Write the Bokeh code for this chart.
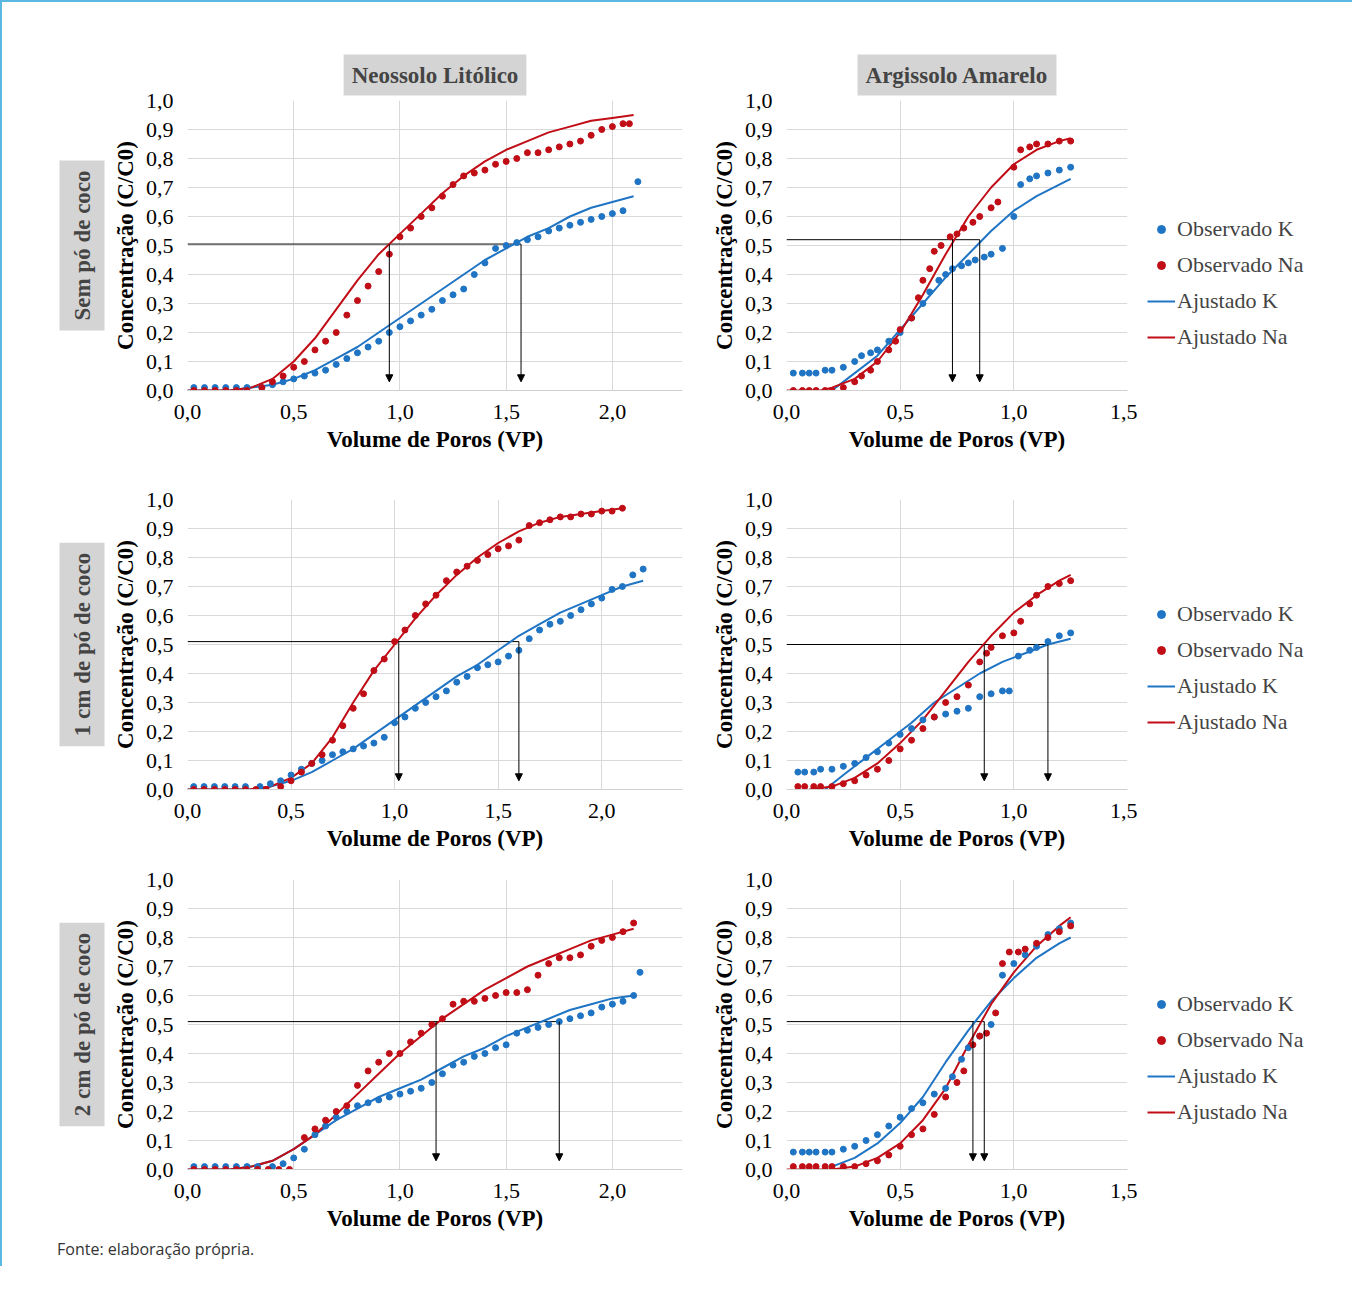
from bokeh.models import (Range1d, FixedTicker, CustomJSTickFormatter, Title, Legend,
                          LegendItem, Arrow, NormalHead, Div)
from bokeh.plotting import figure
from bokeh.layouts import column, row
from bokeh.embed import file_html
from bokeh.resources import INLINE

BLUE = "#1f74c4"
RED = "#c00d16"
SERIF = "Liberation Serif"

# ---- Neossolo Litólico, sem pó de coco
n0_na_x = [0.03,0.08,0.13,0.18,0.23,0.28,0.35,0.4,0.45,0.5,0.55,0.6,0.65,0.7,0.75,0.8,0.85,0.9,0.95,1.0,1.05,1.1,1.15,1.2,1.25,1.3,1.35,1.4,1.45,1.5,1.55,1.6,1.65,1.7,1.75,1.8,1.85,1.9,1.95,2.0,2.05,2.08]
n0_na_y = [0,0,0,0,0,0,0.01,0.03,0.05,0.08,0.1,0.14,0.17,0.2,0.26,0.31,0.36,0.41,0.47,0.53,0.56,0.6,0.63,0.67,0.71,0.74,0.75,0.76,0.78,0.79,0.8,0.82,0.82,0.83,0.84,0.85,0.86,0.88,0.9,0.91,0.92,0.92]
n0_k_x = [0.03,0.08,0.13,0.18,0.23,0.28,0.35,0.4,0.45,0.5,0.55,0.6,0.65,0.7,0.75,0.8,0.85,0.9,0.95,1.0,1.05,1.1,1.15,1.2,1.25,1.3,1.35,1.4,1.45,1.5,1.55,1.6,1.65,1.7,1.75,1.8,1.85,1.9,1.95,2.0,2.05,2.12]
n0_k_y = [0.01,0.01,0.01,0.01,0.01,0.01,0.01,0.02,0.03,0.04,0.05,0.06,0.07,0.09,0.11,0.13,0.15,0.17,0.2,0.22,0.24,0.26,0.28,0.31,0.33,0.35,0.4,0.44,0.49,0.5,0.51,0.52,0.53,0.55,0.56,0.57,0.58,0.59,0.6,0.61,0.62,0.72]
n0_fna_x = [0.0,0.2,0.3,0.4,0.5,0.6,0.7,0.8,0.9,1.0,1.1,1.2,1.3,1.4,1.5,1.6,1.7,1.8,1.9,2.0,2.1]
n0_fna_y = [0,0,0.01,0.04,0.1,0.18,0.28,0.38,0.47,0.54,0.61,0.68,0.74,0.79,0.83,0.86,0.89,0.91,0.93,0.94,0.95]
n0_fk_x = [0.0,0.2,0.3,0.4,0.5,0.6,0.7,0.8,0.9,1.0,1.1,1.2,1.3,1.4,1.5,1.6,1.7,1.8,1.9,2.0,2.1]
n0_fk_y = [0,0,0.01,0.02,0.04,0.07,0.11,0.15,0.2,0.25,0.3,0.35,0.4,0.45,0.49,0.53,0.56,0.6,0.63,0.65,0.67]
n0_ref = (0.505, [0.95, 1.57])

# ---- Argissolo Amarelo, sem pó de coco
a0_na_x = [0.03,0.07,0.1,0.13,0.17,0.2,0.25,0.3,0.33,0.37,0.4,0.45,0.48,0.5,0.55,0.58,0.6,0.63,0.65,0.68,0.72,0.75,0.78,0.82,0.85,0.9,0.93,1.0,1.03,1.07,1.1,1.15,1.2,1.25]
a0_na_y = [0,0,0,0,0,0,0.01,0.03,0.05,0.07,0.1,0.14,0.17,0.21,0.25,0.32,0.38,0.42,0.48,0.5,0.53,0.54,0.56,0.58,0.6,0.63,0.65,0.77,0.83,0.84,0.85,0.85,0.86,0.86]
a0_k_x = [0.03,0.07,0.1,0.13,0.17,0.2,0.25,0.3,0.33,0.37,0.4,0.45,0.5,0.55,0.6,0.63,0.67,0.7,0.73,0.77,0.8,0.83,0.87,0.9,0.95,1.0,1.03,1.07,1.1,1.15,1.2,1.25]
a0_k_y = [0.06,0.06,0.06,0.06,0.07,0.07,0.08,0.1,0.12,0.13,0.14,0.17,0.2,0.25,0.3,0.34,0.38,0.4,0.42,0.43,0.44,0.45,0.46,0.47,0.49,0.6,0.71,0.73,0.74,0.75,0.76,0.77]
a0_fna_x = [0.0,0.15,0.2,0.3,0.4,0.5,0.6,0.7,0.8,0.9,1.0,1.1,1.2,1.25]
a0_fna_y = [0,0,0.01,0.04,0.1,0.2,0.33,0.47,0.6,0.7,0.78,0.83,0.86,0.87]
a0_fk_x = [0.2,0.3,0.4,0.5,0.6,0.7,0.8,0.9,1.0,1.1,1.2,1.25]
a0_fk_y = [0,0.06,0.12,0.21,0.3,0.39,0.47,0.55,0.62,0.67,0.71,0.73]
a0_ref = (0.52, [0.73, 0.85])

# ---- Neossolo Litólico, 1 cm de pó de coco
n1_na_x = [0.03,0.08,0.13,0.18,0.23,0.28,0.33,0.38,0.45,0.5,0.55,0.6,0.65,0.7,0.75,0.8,0.85,0.9,0.95,1.0,1.05,1.1,1.15,1.2,1.25,1.3,1.35,1.4,1.45,1.5,1.55,1.6,1.65,1.7,1.75,1.8,1.85,1.9,1.95,2.0,2.05,2.1]
n1_na_y = [0,0,0,0,0,0,0,0,0.01,0.03,0.06,0.09,0.12,0.17,0.22,0.28,0.33,0.41,0.45,0.51,0.55,0.6,0.64,0.67,0.72,0.75,0.77,0.79,0.81,0.83,0.84,0.86,0.91,0.92,0.93,0.94,0.94,0.95,0.95,0.96,0.96,0.97]
n1_k_x = [0.03,0.08,0.13,0.18,0.23,0.28,0.35,0.4,0.45,0.5,0.55,0.6,0.65,0.7,0.75,0.8,0.85,0.9,0.95,1.0,1.05,1.1,1.15,1.2,1.25,1.3,1.35,1.4,1.45,1.5,1.55,1.6,1.65,1.7,1.75,1.8,1.85,1.9,1.95,2.0,2.05,2.1,2.15,2.2]
n1_k_y = [0.01,0.01,0.01,0.01,0.01,0.01,0.01,0.02,0.03,0.05,0.07,0.09,0.1,0.12,0.13,0.14,0.15,0.16,0.18,0.23,0.25,0.28,0.3,0.32,0.34,0.37,0.39,0.42,0.43,0.44,0.46,0.48,0.52,0.55,0.57,0.58,0.6,0.62,0.64,0.66,0.69,0.7,0.74,0.76]
n1_fna_x = [0.0,0.3,0.4,0.5,0.6,0.7,0.8,0.9,1.0,1.1,1.2,1.3,1.4,1.5,1.6,1.7,1.8,1.9,2.0,2.1]
n1_fna_y = [0,0,0.01,0.04,0.09,0.18,0.3,0.41,0.5,0.59,0.67,0.74,0.8,0.85,0.89,0.92,0.94,0.95,0.96,0.97]
n1_fk_x = [0.0,0.3,0.4,0.5,0.6,0.7,0.8,0.9,1.0,1.1,1.2,1.3,1.4,1.5,1.6,1.7,1.8,1.9,2.0,2.1,2.2]
n1_fk_y = [0,0,0.01,0.03,0.06,0.1,0.14,0.19,0.24,0.29,0.34,0.39,0.43,0.48,0.53,0.57,0.61,0.64,0.67,0.7,0.72]
n1_ref = (0.51, [1.02, 1.6])

# ---- Argissolo Amarelo, 1 cm de pó de coco
a1_na_x = [0.05,0.08,0.12,0.15,0.2,0.25,0.3,0.35,0.4,0.45,0.5,0.55,0.6,0.65,0.7,0.75,0.8,0.85,0.88,0.9,0.95,1.0,1.03,1.07,1.1,1.15,1.2,1.25]
a1_na_y = [0.01,0.01,0.01,0.01,0.01,0.02,0.03,0.05,0.07,0.1,0.14,0.17,0.21,0.25,0.3,0.32,0.36,0.44,0.47,0.49,0.53,0.54,0.58,0.64,0.67,0.7,0.71,0.72]
a1_k_x = [0.05,0.08,0.12,0.15,0.2,0.25,0.3,0.35,0.4,0.45,0.5,0.55,0.6,0.65,0.7,0.75,0.8,0.85,0.9,0.95,0.98,1.02,1.07,1.1,1.15,1.2,1.25]
a1_k_y = [0.06,0.06,0.06,0.07,0.07,0.08,0.09,0.11,0.13,0.16,0.19,0.21,0.24,0.25,0.26,0.27,0.28,0.32,0.33,0.34,0.34,0.46,0.48,0.49,0.51,0.53,0.54]
a1_fna_x = [0.1,0.2,0.3,0.4,0.5,0.6,0.7,0.8,0.9,1.0,1.1,1.2,1.25]
a1_fna_y = [0,0.01,0.04,0.09,0.16,0.24,0.34,0.44,0.53,0.61,0.67,0.72,0.74]
a1_fk_x = [0.17,0.25,0.35,0.45,0.55,0.65,0.75,0.85,0.95,1.05,1.15,1.25]
a1_fk_y = [0,0.05,0.11,0.17,0.23,0.3,0.35,0.4,0.44,0.47,0.5,0.52]
a1_ref = (0.5, [0.87, 1.15])

# ---- Neossolo Litólico, 2 cm de pó de coco
n2_na_x = [0.03,0.08,0.13,0.18,0.23,0.28,0.33,0.38,0.43,0.48,0.55,0.6,0.65,0.7,0.75,0.8,0.85,0.9,0.95,1.0,1.05,1.1,1.15,1.2,1.25,1.3,1.35,1.4,1.45,1.5,1.55,1.6,1.65,1.7,1.75,1.8,1.85,1.9,1.95,2.0,2.05,2.1]
n2_na_y = [0,0,0,0,0,0,0,0,0,0,0.11,0.14,0.17,0.2,0.22,0.29,0.34,0.37,0.4,0.4,0.44,0.47,0.5,0.52,0.57,0.58,0.58,0.59,0.6,0.61,0.61,0.62,0.67,0.71,0.73,0.73,0.74,0.77,0.79,0.8,0.82,0.85]
n2_k_x = [0.03,0.08,0.13,0.18,0.23,0.28,0.33,0.4,0.45,0.5,0.55,0.6,0.65,0.7,0.75,0.8,0.85,0.9,0.95,1.0,1.05,1.1,1.15,1.2,1.25,1.3,1.35,1.4,1.45,1.5,1.55,1.6,1.65,1.7,1.75,1.8,1.85,1.9,1.95,2.0,2.05,2.1,2.13]
n2_k_y = [0.01,0.01,0.01,0.01,0.01,0.01,0.01,0.01,0.02,0.04,0.07,0.12,0.15,0.18,0.2,0.22,0.23,0.24,0.25,0.26,0.27,0.28,0.3,0.33,0.36,0.37,0.39,0.4,0.42,0.43,0.47,0.48,0.49,0.5,0.51,0.52,0.53,0.54,0.56,0.57,0.58,0.6,0.68]
n2_fna_x = [0.0,0.2,0.3,0.4,0.5,0.6,0.7,0.8,0.9,1.0,1.1,1.2,1.3,1.4,1.5,1.6,1.7,1.8,1.9,2.0,2.1]
n2_fna_y = [0,0,0.01,0.03,0.07,0.12,0.19,0.26,0.33,0.4,0.46,0.52,0.57,0.62,0.66,0.7,0.73,0.76,0.79,0.81,0.83]
n2_fk_x = [0.0,0.2,0.3,0.4,0.5,0.6,0.7,0.8,0.9,1.0,1.1,1.2,1.3,1.4,1.5,1.6,1.7,1.8,1.9,2.0,2.1]
n2_fk_y = [0,0,0.01,0.03,0.07,0.12,0.17,0.21,0.25,0.28,0.31,0.35,0.39,0.42,0.46,0.49,0.52,0.55,0.57,0.59,0.6]
n2_ref = (0.51, [1.17, 1.75])

# ---- Argissolo Amarelo, 2 cm de pó de coco
a2_na_x = [0.03,0.07,0.1,0.13,0.17,0.2,0.25,0.3,0.35,0.4,0.45,0.5,0.55,0.6,0.65,0.7,0.75,0.78,0.82,0.85,0.88,0.92,0.95,0.98,1.02,1.05,1.1,1.15,1.2,1.25]
a2_na_y = [0.01,0.01,0.01,0.01,0.01,0.01,0.01,0.01,0.02,0.03,0.05,0.08,0.12,0.14,0.19,0.25,0.3,0.34,0.43,0.46,0.47,0.54,0.71,0.75,0.75,0.76,0.78,0.8,0.82,0.84]
a2_k_x = [0.03,0.07,0.1,0.13,0.17,0.2,0.25,0.3,0.35,0.4,0.45,0.5,0.55,0.6,0.65,0.7,0.73,0.77,0.8,0.85,0.9,0.95,1.0,1.05,1.1,1.15,1.2,1.25]
a2_k_y = [0.06,0.06,0.06,0.06,0.06,0.06,0.07,0.08,0.1,0.12,0.15,0.18,0.21,0.23,0.26,0.28,0.32,0.38,0.42,0.46,0.5,0.67,0.71,0.74,0.77,0.81,0.83,0.85]
a2_fna_x = [0.0,0.2,0.3,0.4,0.5,0.6,0.7,0.8,0.9,1.0,1.1,1.2,1.25]
a2_fna_y = [0,0,0.01,0.04,0.09,0.17,0.28,0.43,0.57,0.68,0.77,0.84,0.87]
a2_fk_x = [0.2,0.3,0.4,0.5,0.6,0.7,0.8,0.9,1.0,1.1,1.2,1.25]
a2_fk_y = [0.01,0.04,0.09,0.16,0.25,0.37,0.48,0.58,0.66,0.73,0.78,0.8]
a2_ref = (0.51, [0.82, 0.87])

x_ticks_left = [0.0, 0.5, 1.0, 1.5, 2.0]
x_ticks_right = [0.0, 0.5, 1.0, 1.5]
y_ticks = [0.0, 0.1, 0.2, 0.3, 0.4, 0.5, 0.6, 0.7, 0.8, 0.9, 1.0]

row_labels = ["Sem pó de coco", "1 cm de pó de coco", "2 cm de pó de coco"]
col_labels = ["Neossolo Litólico", "Argissolo Amarelo"]
legend_labels = ["Observado K", "Observado Na", "Ajustado K", "Ajustado Na"]

fmt = CustomJSTickFormatter(code="return tick.toFixed(1).replace('.', ',');")


def panel(data, ref, left, top_label=None, side_label=None, xmax=2.33, top=22, bottom=30):
    na_x, na_y, k_x, k_y, fna_x, fna_y, fk_x, fk_y = data
    p = figure(output_backend="svg", toolbar_location=None, frame_height=290,
               frame_width=495 if left else 341,
               x_range=Range1d(0, xmax), y_range=Range1d(0, 1.0),
               min_border_left=20, min_border_right=26 if left else 10,
               min_border_top=top, min_border_bottom=bottom, outline_line_color=None)
    xt = x_ticks_left if left else x_ticks_right
    p.xaxis.ticker = FixedTicker(ticks=xt)
    p.yaxis.ticker = FixedTicker(ticks=y_ticks)
    for ax in (p.xaxis, p.yaxis):
        ax.formatter = fmt
        ax.major_tick_line_color = None
        ax.minor_tick_line_color = None
        ax.major_label_text_font = SERIF
        ax.major_label_text_font_size = "22px"
        ax.major_label_text_color = "black"
        ax.axis_label_text_font = SERIF
        ax.axis_label_text_font_style = "bold"
        ax.axis_label_text_font_size = "23px"
        ax.axis_label_text_color = "black"
        ax.major_label_standoff = 8
    p.yaxis.axis_line_color = None
    p.xaxis.axis_line_color = "#d0d0d0"
    p.xaxis.axis_label = "Volume de Poros (VP)"
    p.yaxis.axis_label = "Concentração (C/C0)"
    p.xgrid.ticker = FixedTicker(ticks=xt)
    p.ygrid.ticker = FixedTicker(ticks=y_ticks)
    p.grid.grid_line_color = "#d9d9d9"

    ry, rx = ref
    p.line([0, max(rx)], [ry, ry], color="black", line_width=1)
    for xv in rx:
        p.add_layout(Arrow(x_start=xv, y_start=ry, x_end=xv, y_end=0.03,
                           line_width=1, end=NormalHead(size=7, fill_color="black")))

    p.line(fk_x, fk_y, color=BLUE, line_width=2)
    p.line(fna_x, fna_y, color=RED, line_width=2)
    p.scatter(k_x, k_y, size=6, color=BLUE)
    p.scatter(na_x, na_y, size=6, color=RED)

    if top_label:
        p.add_layout(Title(text=top_label, align="center", text_font=SERIF,
                           text_font_style="bold", text_font_size="23px",
                           background_fill_color="#d4d4d4", padding=8), "above")
    if side_label:
        p.add_layout(Title(text=side_label, align="center", text_font=SERIF,
                           text_font_style="bold", text_font_size="23px",
                           background_fill_color="#d4d4d4", padding=10), "left")
    return p


def legend_box(height, ypos):
    # legend-only figure placed to the right of each Argissolo panel
    q = figure(output_backend="svg", toolbar_location=None, width=215, height=height,
               x_range=Range1d(0, 1), y_range=Range1d(0, 1), outline_line_color=None,
               min_border=0)
    q.axis.visible = False
    q.grid.visible = False
    ok = q.scatter([-5], [-5], size=6, color=BLUE)
    ona = q.scatter([-5], [-5], size=6, color=RED)
    lk = q.line([-5, -4], [-5, -4], color=BLUE, line_width=2)
    lna = q.line([-5, -4], [-5, -4], color=RED, line_width=2)
    leg = Legend(items=[LegendItem(label=legend_labels[0], renderers=[ok]),
                        LegendItem(label=legend_labels[1], renderers=[ona]),
                        LegendItem(label=legend_labels[2], renderers=[lk]),
                        LegendItem(label=legend_labels[3], renderers=[lna])],
                 location=(10, ypos),
                 label_text_font=SERIF, label_text_font_size="22px",
                 border_line_color=None, background_fill_alpha=0,
                 glyph_width=28, spacing=10, margin=0, padding=0, label_standoff=2)
    q.add_layout(leg, "center")
    return q


p1 = panel((n0_na_x, n0_na_y, n0_k_x, n0_k_y, n0_fna_x, n0_fna_y, n0_fk_x, n0_fk_y), n0_ref, True,
           top_label=col_labels[0], side_label=row_labels[0], top=10)
p2 = panel((a0_na_x, a0_na_y, a0_k_x, a0_k_y, a0_fna_x, a0_fna_y, a0_fk_x, a0_fk_y), a0_ref, False,
           top_label=col_labels[1], xmax=1.5, top=10)
p3 = panel((n1_na_x, n1_na_y, n1_k_x, n1_k_y, n1_fna_x, n1_fna_y, n1_fk_x, n1_fk_y), n1_ref, True,
           side_label=row_labels[1], xmax=2.39)
p4 = panel((a1_na_x, a1_na_y, a1_k_x, a1_k_y, a1_fna_x, a1_fna_y, a1_fk_x, a1_fk_y), a1_ref, False,
           xmax=1.5)
p5 = panel((n2_na_x, n2_na_y, n2_k_x, n2_k_y, n2_fna_x, n2_fna_y, n2_fk_x, n2_fk_y), n2_ref, True,
           side_label=row_labels[2], bottom=10)
p6 = panel((a2_na_x, a2_na_y, a2_k_x, a2_k_y, a2_fna_x, a2_fna_y, a2_fk_x, a2_fk_y), a2_ref, False,
           xmax=1.5, bottom=10)

foot = Div(text="Fonte: elaboração própria.",
           styles={"font-family": "Open Sans", "font-size": "16px", "color": "#333"})

p = column(row(p1, p2, legend_box(430, 63)), row(p3, p4, legend_box(380, 58)),
           row(p5, p6, legend_box(360, 28)), foot,
           styles={"border-top": "2px solid #5bb8e0", "border-left": "2px solid #5bb8e0",
                   "padding-left": "50px", "padding-top": "45px"})

open("out.html", "w").write(file_html(p, INLINE))
